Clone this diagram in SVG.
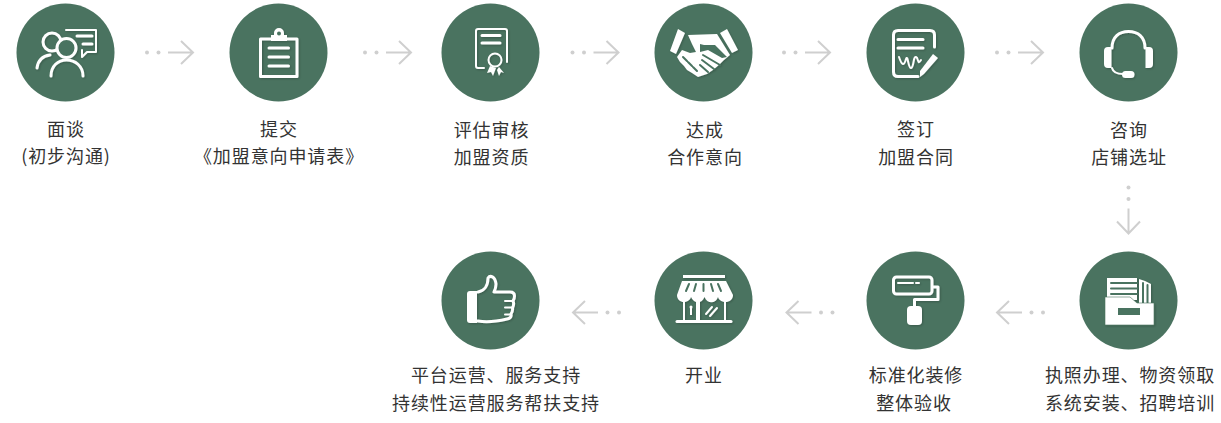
<svg xmlns="http://www.w3.org/2000/svg" width="1221" height="423" viewBox="0 0 1221 423">
<style>
.c{fill:#4a7360}
.t{font-family:"Noto Sans CJK SC","Noto Sans",sans-serif;font-size:18px;letter-spacing:.9px;fill:#333;text-anchor:middle;font-weight:400}
.i{filter:url(#sh)}
.s{fill:none;stroke:#fff;stroke-width:3;stroke-linecap:round;stroke-linejoin:round}
.s2{fill:none;stroke:#fff;stroke-width:2;stroke-linecap:round;stroke-linejoin:round}
.f{fill:#fff}
.g{fill:#4a7360}
.gl{fill:none;stroke:#4a7360;stroke-width:2;stroke-linecap:round}
.a{fill:none;stroke:#cfcfcf;stroke-width:2}
.d{fill:#cfcfcf}
</style>
<defs>
<filter id="sh" x="-20%" y="-20%" width="140%" height="140%"><feDropShadow dx="1" dy="1" stdDeviation="1" flood-color="#000" flood-opacity=".22"/></filter>
<g id="ar"><circle class="d" cx="-46" cy="0" r="2"/><circle class="d" cx="-34.500" cy="0" r="2"/><path class="a" d="M-25 0H0M-12 -11.500L0 0L-12 11.500"/></g>
</defs>
<rect width="1221" height="423" fill="#fff"/>
<g id="connectors">
<use href="#ar" x="193" y="52.500"/>
<use href="#ar" x="411" y="52.500"/>
<use href="#ar" x="618.500" y="52.500"/>
<use href="#ar" x="830" y="52.500"/>
<use href="#ar" x="1043" y="52.500"/>
<use href="#ar" transform="translate(1128.500 233.500) rotate(90)"/>
<use href="#ar" transform="translate(997 312.500) rotate(180)"/>
<use href="#ar" transform="translate(786.500 312.500) rotate(180)"/>
<use href="#ar" transform="translate(573 312.500) rotate(180)"/>
</g>
<g id="n1"><circle class="c" cx="65.500" cy="52.500" r="49"/>
<g class="i"><path class="s2" stroke-linecap="butt" d="M66 30H96V52H87L82 57V50"/><path class="s" stroke-width="2.500" stroke-linecap="butt" d="M77 36H92M83 44H92"/><circle class="s" cx="52" cy="42" r="9"/><path d="M37 68C38 60 43 56 50 55" class="s"/><circle cx="66.500" cy="48" r="9.500" fill="#4a7360" stroke="#fff" stroke-width="3"/><path class="s" d="M51 76C51 66 58 60 66.500 60S83 66 83 76"/></g></g>
<g id="n2"><circle class="c" cx="278.500" cy="52.500" r="49"/>
<g class="i"><path class="s" stroke-linecap="butt" d="M271 39H260.500V76.500H297V39H286"/><path class="f" d="M271 41V35H274V33a5 5 0 0 1 10 0V35H287V41Z"/><circle class="g" cx="279" cy="33.500" r="2"/><path class="s" d="M269 48H288.500M269 57H288.500M269 66H288.500"/></g></g>
<g id="n3"><circle class="c" cx="490.500" cy="52.500" r="49"/>
<g class="i"><path class="s2" d="M484 68H478Q476 68 476 66V31Q476 29 478 29H505Q507 29 507 31V62"/><path class="s" stroke-width="2.500" stroke-linecap="butt" d="M482 35.500H500M482 43H500"/><circle class="s2" cx="495" cy="60" r="6.500"/><path class="f" d="M490 66L487 73L491 72L493 76L496 68ZM499 67L497 70L499 76L501 72L504 73Z"/></g></g>
<g id="n4"><circle class="c" cx="703.500" cy="52.500" r="49"/>
<g class="i"><path class="f" d="M678 29L685 33L676 54L670 51ZM727 29L720 33L732 53L738 50Z"/><path class="f" d="M688 35L717 34L730 55L724 60L720 64L713 70L707 74L698 77L692 73L687 70L684 66L680 62L677 57L682 50L690 53L696 52L692 44Z"/><path class="g" d="M700 44L704 45L715 45L727 57L722 58L708 50L700 52Z"/><path class="gl" stroke-width="1.500" d="M703 55L720 65M702 60L714 69M700 65L708 72M683 57L687 61M688 62L692 66M693 67L697 71"/></g></g>
<g id="n5"><circle class="c" cx="915.500" cy="52.500" r="49"/>
<g class="i"><path class="s" d="M918 76.500H898Q893.500 76.500 893.500 72V35Q893.500 30.500 898 30.500H930Q934.500 30.500 934.500 35V47"/><path class="s" stroke-width="2.500" stroke-linecap="butt" d="M898 39.500H923M898 48H923"/><path class="s2" d="M899 57C902 66 904 66 906 59C908 54 908 68 911 68C914 68 913 56 916 57C919 58 917 66 921 60"/><path class="f" d="M933 54L938 58L924 74L920 77L920 71Z"/></g></g>
<g id="n6"><circle class="c" cx="1128.500" cy="52.500" r="49"/>
<g class="i"><path class="s" d="M1112 48C1112 37 1119 31.500 1128.500 31.500S1145 37 1145 48" stroke-width="2.500"/><path class="f" d="M1111.500 47V68H1108Q1104 68 1104 64V51Q1104 47 1108 47ZM1145.500 47V68H1149Q1153 68 1153 64V51Q1153 47 1149 47Z"/><path class="s2" d="M1112 68C1113 72 1117 74 1123 74"/><rect class="f" x="1122" y="71" width="12.500" height="7" rx="3.500"/></g></g>
<g id="n7"><circle class="c" cx="1128.500" cy="300.500" r="49"/>
<g class="i"><path class="f" d="M1139 279L1145 281L1151 284V303H1139Z"/><path class="gl" stroke-width="1.300" stroke-linecap="butt" d="M1143 283V303M1147.500 285V303"/><path class="f" d="M1107 278H1137V300H1107Z"/><path class="gl" stroke-width="1.800" stroke-linecap="butt" d="M1111 283H1137M1111 288.500H1137M1111 294H1137"/><path class="f" stroke="#4a7360" stroke-width=".6" d="M1105 297H1130L1137 303H1154V325H1105Z"/><rect class="g" x="1118" y="308" width="22" height="7"/></g></g>
<g id="n8"><circle class="c" cx="915.500" cy="300.500" r="49"/>
<g class="i"><rect class="s" x="893.500" y="277" width="38.500" height="17" rx="3"/><path class="s2" stroke-width="1.500" d="M898 283H913M916 283H919"/><path class="s" d="M933 287H938V299.500H914.500V306"/><rect class="f" x="907" y="306" width="15" height="19" rx="4"/></g></g>
<g id="n9"><circle class="c" cx="703.500" cy="300.500" r="49"/>
<g class="i"><rect class="f" x="683" y="275" width="42" height="3"/><path class="f" d="M682 281H726L733 295C733 304 720 304 718 297C716 304 707 304 704.500 297C702 304 694 304 691 297C689 304 677 304 677 295Z"/><path class="gl" stroke-width="1.300" d="M689 284L686 291M696 284L694 291M703.500 284L703.500 291M711 284L713 291M718 284L721 291"/><path class="s2" stroke-linecap="butt" d="M684 302V321M697 302V321M699 302V321M725 302V321"/><path class="s" stroke-width="2.500" stroke-linecap="butt" d="M677 321.500H731"/><circle class="f" cx="691" cy="307" r="1.500"/><rect class="f" x="690" y="307" width="2" height="8"/><path class="s2" stroke-width="1.300" d="M706 314L712 307M710 316L717 308"/></g></g>
<g id="n10"><circle class="c" cx="490.500" cy="300.500" r="49"/>
<g class="i"><path class="f" d="M470 291H477V323H470Q467 323 467 320V294Q467 291 470 291Z"/><path class="s" stroke-width="2.500" d="M478 292C484 291 488 286 488 278C490 275 495 276 496 284C496 287 495 290 494 292H510Q514.500 292 514.500 296Q514.500 299 513 301Q514.500 304 512.500 308Q513 311 511 314Q512 318 507 319Q490 323 478 321"/><path class="s2" stroke-linecap="butt" d="M505 301H513M505 307.500H512M505 314.500H511"/></g></g>
<text class="t" x="66" y="135.500">面谈</text>
<text class="t" x="66" y="163">(初步沟通)</text>
<text class="t" x="279" y="135.500">提交</text>
<text class="t" x="279" y="163">《加盟意向申请表》</text>
<text class="t" x="491.500" y="136.500">评估审核</text>
<text class="t" x="491.500" y="164">加盟资质</text>
<text class="t" x="705" y="136.500">达成</text>
<text class="t" x="705" y="164">合作意向</text>
<text class="t" x="916" y="135.500">签订</text>
<text class="t" x="916" y="163.500">加盟合同</text>
<text class="t" x="1129" y="136.500">咨询</text>
<text class="t" x="1129" y="164">店铺选址</text>
<text class="t" x="1130" y="382">执照办理、物资领取</text>
<text class="t" x="1130" y="410">系统安装、招聘培训</text>
<text class="t" x="916" y="382">标准化装修</text>
<text class="t" x="914" y="410">整体验收</text>
<text class="t" x="704" y="381.500">开业</text>
<text class="t" x="496" y="382">平台运营、服务支持</text>
<text class="t" x="496" y="410">持续性运营服务帮扶支持</text>
</svg>
